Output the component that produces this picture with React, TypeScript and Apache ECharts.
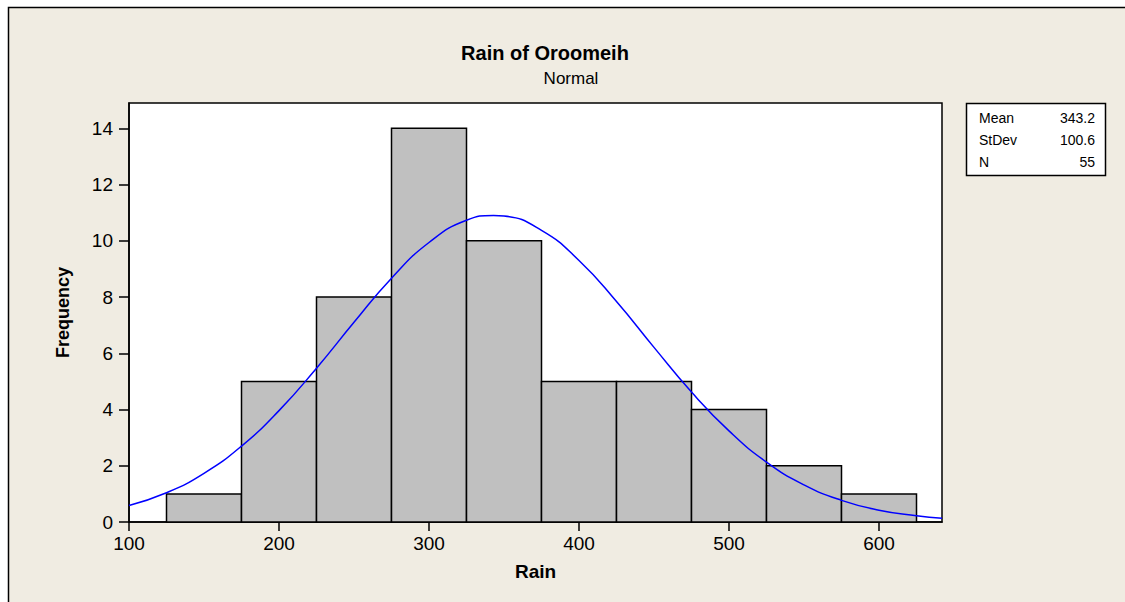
import React, { useEffect, useRef } from "react";
import * as echarts from "echarts";

const binStarts = [125, 175, 225, 275, 325, 375, 425, 475, 525, 575];
const binEnds = [175, 225, 275, 325, 375, 425, 475, 525, 575, 625];
const frequencies = [1, 5, 8, 14, 10, 5, 5, 4, 2, 1];

const curveX = [100, 125, 150, 175, 200, 225, 250, 275, 300, 325, 343, 350, 375, 400, 425, 450, 475, 500, 525, 550, 575, 600, 625, 642];
const curveY = [0.59, 1.04, 1.73, 2.7, 3.96, 5.47, 7.1, 8.67, 9.94, 10.73, 10.9, 10.88, 10.37, 9.3, 7.84, 6.21, 4.62, 3.24, 2.13, 1.32, 0.77, 0.42, 0.22, 0.13];

const xTicks = [100, 200, 300, 400, 500, 600];
const yTicks = [0, 2, 4, 6, 8, 10, 12, 14];

const statLabels = ["Mean", "StDev", "N"];
const statValues = ["343.2", "100.6", "55"];

const FONT = "Liberation Sans, Arial, sans-serif";

export default function App() {
  const ref = useRef<HTMLDivElement>(null);
  useEffect(() => {
    if (!ref.current) return;
    const chart = echarts.init(ref.current, null, { renderer: "svg" });
    const barData = binStarts.map((s, i) => [s, binEnds[i], frequencies[i]]);
    const lineData = curveX.map((x, i) => [x, curveY[i]]);
    const statRowsY = [118, 140, 162];
    const graphics: any[] = [
      {
        type: "rect",
        z: -10,
        silent: true,
        shape: { x: 8.5, y: 7.5, width: 1130, height: 610 },
        style: { fill: "#F0ECE2", stroke: "#000", lineWidth: 1.5 },
      },
      {
        type: "rect",
        shape: { x: 966.5, y: 103.5, width: 139, height: 72 },
        style: { fill: "#fff", stroke: "#000", lineWidth: 1.5 },
      },
    ];
    statLabels.forEach((t, i) => {
      graphics.push({
        type: "text",
        x: 979,
        y: statRowsY[i],
        style: { text: t, font: `14px ${FONT}`, fill: "#000", textVerticalAlign: "middle", textAlign: "left" },
      });
      graphics.push({
        type: "text",
        x: 1095,
        y: statRowsY[i],
        style: { text: statValues[i], font: `14px ${FONT}`, fill: "#000", textVerticalAlign: "middle", textAlign: "right" },
      });
    });
    chart.setOption({
      animation: false,
      backgroundColor: "#fff",
      title: [
        {
          text: "Rain of Oroomeih",
          left: 540,
          top: 38,
          textAlign: "center",
          textStyle: { fontFamily: FONT, fontSize: 20, fontWeight: "bold", color: "#000" },
        },
        {
          text: "Normal",
          left: 566,
          top: 65,
          textAlign: "center",
          textStyle: { fontFamily: FONT, fontSize: 17, fontWeight: "normal", color: "#000" },
        },
      ],
      grid: {
        left: 129,
        top: 103,
        right: 183,
        bottom: 80,
        show: true,
        backgroundColor: "#fff",
        borderColor: "#000",
        borderWidth: 1.5,
      },
      xAxis: {
        type: "value",
        min: 100,
        max: 642,
        interval: 100,
        name: "Rain",
        nameLocation: "middle",
        nameGap: 40,
        nameTextStyle: { fontFamily: FONT, fontSize: 19, fontWeight: "bold", color: "#000" },
        axisLine: { show: true, lineStyle: { color: "#000", width: 1.5 } },
        axisTick: { show: true, length: 9, customValues: xTicks, lineStyle: { color: "#000", width: 1.5 } },
        axisLabel: { customValues: xTicks, margin: 12, fontFamily: FONT, fontSize: 19, color: "#000" },
        splitLine: { show: false },
      },
      yAxis: {
        type: "value",
        min: 0,
        max: 14.9,
        interval: 2,
        name: "Frequency",
        nameLocation: "middle",
        nameGap: 57,
        nameTextStyle: { fontFamily: FONT, fontSize: 18, fontWeight: "bold", color: "#000" },
        axisLine: { show: true, lineStyle: { color: "#000", width: 1.5 } },
        axisTick: { show: true, length: 10, customValues: yTicks, lineStyle: { color: "#000", width: 1.5 } },
        axisLabel: { customValues: yTicks, margin: 16, fontFamily: FONT, fontSize: 19, color: "#000" },
        splitLine: { show: false },
      },
      series: [
        {
          type: "custom",
          z: 2,
          data: barData,
          encode: { x: [0, 1], y: 2 },
          renderItem: (params: any, api: any) => {
            const p0 = api.coord([api.value(0), api.value(2)]);
            const p1 = api.coord([api.value(1), 0]);
            return {
              type: "rect",
              shape: { x: p0[0], y: p0[1], width: p1[0] - p0[0], height: p1[1] - p0[1] },
              style: { fill: "#C0C0C0", stroke: "#000", lineWidth: 1.5 },
            };
          },
        },
        {
          type: "line",
          z: 3,
          data: lineData,
          smooth: true,
          showSymbol: false,
          symbol: "none",
          lineStyle: { color: "#0000FF", width: 1.5 },
        },
      ],
      graphic: graphics,
    });
    return () => chart.dispose();
  }, []);
  return <div ref={ref} style={{ position: "fixed", left: 0, top: 0, width: 1125, height: 602 }} />;
}
